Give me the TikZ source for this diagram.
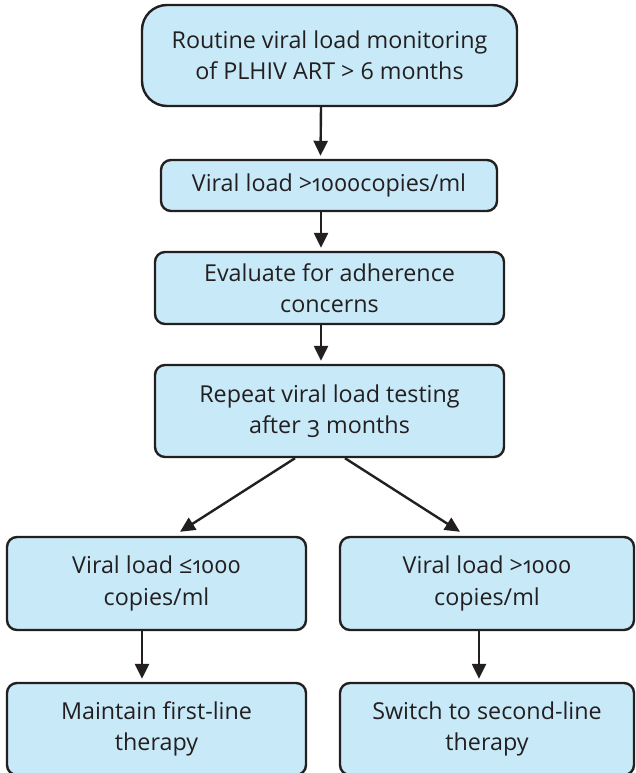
\documentclass[tikz,border=0pt]{standalone}
\usepackage{fontspec}
\setmainfont{Open Sans}[Numbers=OldStyle]
\usetikzlibrary{arrows.meta}
\definecolor{boxfill}{RGB}{200,233,248}
\definecolor{ink}{RGB}{35,31,32}
\tikzset{
  flowbox/.style={draw=ink, fill=boxfill, line width=2.4pt, rounded corners=10pt,
    inner sep=0pt, align=center, text=ink, font=\fontsize{23.3}{31.5}\selectfont},
  flowarrow/.style={draw=ink, line width=2.4pt, -{Triangle[length=15pt,width=14pt]}}
}
\begin{document}
\begin{tikzpicture}[x=1pt,y=-1pt]
\useasboundingbox (0,0) rectangle (635,773);
\begin{scope}
\clip (0,0) rectangle (635,773);
\node[flowbox, rounded corners=25pt, minimum width=375pt, minimum height=101pt] (b1) at (329.5,55.5)
  {Routine viral load monitoring\\of PLHIV ART > 6 months};
\node[flowbox, minimum width=336pt, minimum height=51pt] (b2) at (329,185.5)
  {Viral load >1000copies/ml};
\node[flowbox, minimum width=349pt, minimum height=72pt] (b3) at (329.5,288)
  {Evaluate for adherence\\concerns};
\node[flowbox, minimum width=349pt, minimum height=92pt] (b4) at (329.5,411)
  {Repeat viral load testing\\after 3 months};
\node[flowbox, minimum width=299pt, minimum height=93pt] (b5) at (156.5,583.5)
  {Viral load ≤1000\\copies/ml};
\node[flowbox, minimum width=294pt, minimum height=93pt] (b6) at (487,583.5)
  {Viral load >1000\\copies/ml};
\node[flowbox, minimum width=299pt, minimum height=92pt] (b7) at (156.5,729)
  {Maintain first-line\\therapy};
\node[flowbox, minimum width=294pt, minimum height=92pt] (b8) at (487,729)
  {Switch to second-line\\therapy};
\end{scope}
\draw[flowarrow] ([xshift=-8.5pt]b1.south) -- ([xshift=-8.5pt,yshift=3pt]b2.north);
\draw[flowarrow] ([xshift=-8pt]b2.south) -- ([xshift=-8.5pt,yshift=3pt]b3.north);
\draw[flowarrow] ([xshift=-8.5pt]b3.south) -- ([xshift=-8.5pt,yshift=3pt]b4.north);
\draw[flowarrow] ([xshift=-34.5pt]b4.south) -- ([xshift=23.5pt,yshift=4pt]b5.north);
\draw[flowarrow] ([xshift=15.5pt]b4.south) -- ([xshift=-27pt,yshift=4pt]b6.north);
\draw[flowarrow] ([xshift=-14.5pt]b5.south) -- ([xshift=-14.5pt,yshift=3pt]b7.north);
\draw[flowarrow] ([xshift=-8pt]b6.south) -- ([xshift=-8pt,yshift=3pt]b8.north);
\end{tikzpicture}
\end{document}
